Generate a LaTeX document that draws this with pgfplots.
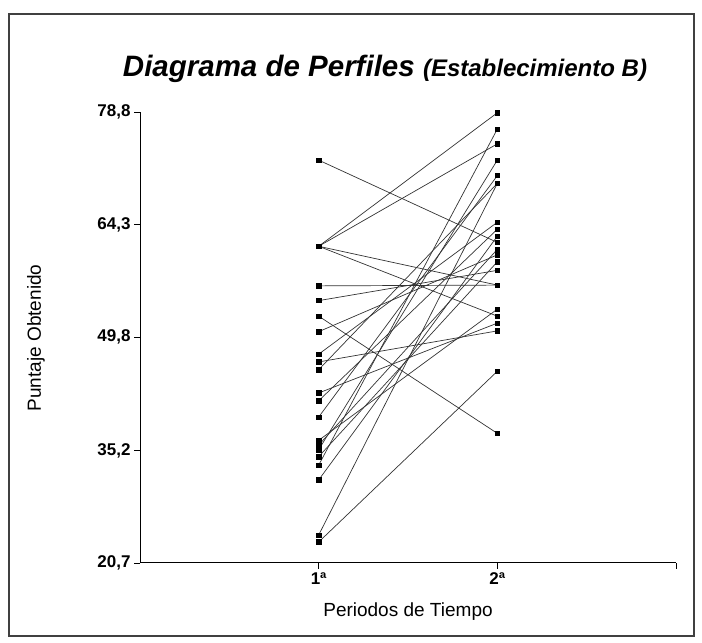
\documentclass[border=0pt]{standalone}
\usepackage{pgfplots}
\pgfplotsset{compat=1.18}
\usepackage{fontspec}
\setmainfont{Liberation Sans}
\begin{document}
\begin{tikzpicture}[x=1pt,y=1pt]
\path[use as bounding box] (0,0) rectangle (702,643);
\draw[line width=1.3pt, black!75] (9,7) rectangle (694,629);
\node at (385,574) {\bfseries\itshape\fontsize{29.5}{29.5}\selectfont Diagrama de Perfiles {\fontsize{24}{24}\selectfont (Establecimiento B)}};
\node[rotate=90] at (36,305) {\fontsize{19}{19}\selectfont Puntaje Obtenido};
\node at (408,31) {\fontsize{19}{19}\selectfont Periodos de Tiempo};
\begin{axis}[
  at={(140pt,80pt)}, anchor=south west,
  scale only axis, width=536pt, height=451pt,
  xmin=0, xmax=3, ymin=20.7, ymax=78.8,
  axis lines=left, axis line style={-, line width=1pt},
  tick align=outside, major tick length=6pt,
  tick style={line width=0.8pt, black},
  xtick={1,2,3}, xticklabels={1ª,2ª,{}},
  ytick={20.7,35.2,49.8,64.3,78.8},
  yticklabels={{20,7},{35,2},{49,8},{64,3},{78,8}},
  ticklabel style={font=\bfseries\fontsize{17}{17}\selectfont},
  clip=false,
  every axis plot post/.append style={black!80, solid, line width=0.7pt, mark=square*, mark size=2.2pt, mark options={black, solid, fill=black}},
]
\addplot coordinates {(1,72.6) (2,62.0)};
\addplot coordinates {(1,61.5) (2,78.7)};
\addplot coordinates {(1,61.5) (2,74.7)};
\addplot coordinates {(1,61.5) (2,56.5)};
\addplot coordinates {(1,61.5) (2,52.5)};
\addplot coordinates {(1,56.4) (2,56.5)};
\addplot coordinates {(1,54.5) (2,58.4)};
\addplot coordinates {(1,52.5) (2,37.4)};
\addplot coordinates {(1,50.5) (2,60.4)};
\addplot coordinates {(1,47.6) (2,64.6)};
\addplot coordinates {(1,46.6) (2,50.6)};
\addplot coordinates {(1,45.6) (2,69.6)};
\addplot coordinates {(1,42.6) (2,51.6)};
\addplot coordinates {(1,41.6) (2,63.7)};
\addplot coordinates {(1,39.5) (2,70.6)};
\addplot coordinates {(1,36.5) (2,53.4)};
\addplot coordinates {(1,35.9) (2,61.1)};
\addplot coordinates {(1,35.3) (2,72.6)};
\addplot coordinates {(1,34.4) (2,59.5)};
\addplot coordinates {(1,33.3) (2,76.6)};
\addplot coordinates {(1,31.4) (2,62.8)};
\addplot coordinates {(1,24.3) (2,69.6)};
\addplot coordinates {(1,23.4) (2,45.4)};
\end{axis}
\end{tikzpicture}
\end{document}
